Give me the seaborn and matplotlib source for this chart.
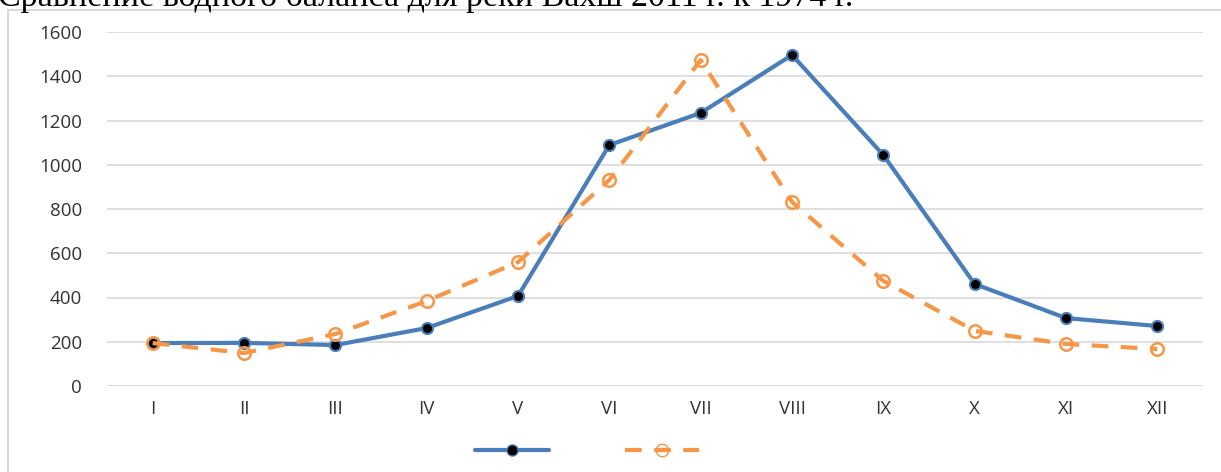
import matplotlib
matplotlib.use("Agg")
import matplotlib.pyplot as plt
import seaborn as sns
import pandas as pd
from matplotlib.lines import Line2D
from matplotlib.patches import Rectangle

months = ["I", "II", "III", "IV", "V", "VI", "VII", "VIII", "IX", "X", "XI", "XII"]
flow_2011 = [194, 195, 185, 262, 407, 1089, 1234, 1496, 1044, 461, 307, 271]
flow_1974 = [194, 149, 235, 384, 560, 931, 1473, 832, 475, 249, 190, 167]
y_ticks = [0, 200, 400, 600, 800, 1000, 1200, 1400, 1600]
title_text = "Сравнение водного баланса для реки Вахш 2011 г. к 1974 г."

df = pd.DataFrame({
    "month": months * 2,
    "x": list(range(len(months))) * 2,
    "value": flow_2011 + flow_1974,
    "series": ["2011"] * len(months) + ["1974"] * len(months),
})

sns.set_theme(style="white")
plt.rcParams["font.family"] = ["Open Sans", "DejaVu Sans"]

fig = plt.figure(figsize=(12.21, 4.72), dpi=100)
ax = fig.add_axes([107 / 1221, 86 / 472, (1203 - 107) / 1221, (386 - 32) / 472])

blue = "#4A7EBB"
orange = "#F79646"

d1 = df[df.series == "2011"]
d2 = df[df.series == "1974"]
sns.lineplot(data=d1, x="x", y="value", ax=ax, color=blue, lw=3,
             marker="o", markersize=8, markerfacecolor="black",
             markeredgecolor=blue, markeredgewidth=1.5, legend=False, zorder=3)
sns.lineplot(data=d2, x="x", y="value", ax=ax, color=orange, lw=3,
             linestyle=(0, (4, 3)), marker="o", markersize=9,
             markerfacecolor="none", markeredgecolor=orange,
             markeredgewidth=1.8, legend=False, zorder=4)

ax.set_xlim(-0.5, 11.5)
ax.set_ylim(0, 1600)
ax.set_yticks(y_ticks)
ax.set_yticklabels([str(v) for v in y_ticks], fontsize=13.5, color="#333333")
ax.set_xticks(range(len(months)))
ax.set_xticklabels(months, fontsize=13.5, color="#333333")
ax.tick_params(axis="x", pad=10, length=0)
ax.tick_params(axis="y", pad=18, length=0)
ax.yaxis.grid(True, color="#D9D9D9", lw=1.2)
ax.xaxis.grid(False)
for s in ax.spines.values():
    s.set_visible(False)
ax.axhline(0, color="#D9D9D9", lw=1.2, zorder=1)
ax.set_xlabel("")
ax.set_ylabel("")

h1 = Line2D([], [], color=blue, lw=3, marker="o", markersize=8,
            markerfacecolor="black", markeredgecolor=blue)
h2 = Line2D([], [], color=orange, lw=3, linestyle=(0, (4, 3)), marker="o",
            markersize=9, markerfacecolor="none", markeredgecolor=orange)
fig.legend([h1, h2], ["", ""], loc="center", bbox_to_anchor=(587 / 1221, 1 - 452 / 472),
           ncol=2, frameon=False, handlelength=4.8, columnspacing=5, handletextpad=0)

fig.patches.append(Rectangle((8 / 1221, -0.1), 1.2, 1 - 10 / 472 + 0.1,
                             transform=fig.transFigure, fill=False,
                             edgecolor="#D9D9D9", lw=1.5))

fig.text(-2 / 1221, 1 - 6 / 472, title_text, family="Liberation Serif",
         fontsize=24.5, va="baseline", ha="left", color="black")

fig.savefig("out.png", dpi=100)
